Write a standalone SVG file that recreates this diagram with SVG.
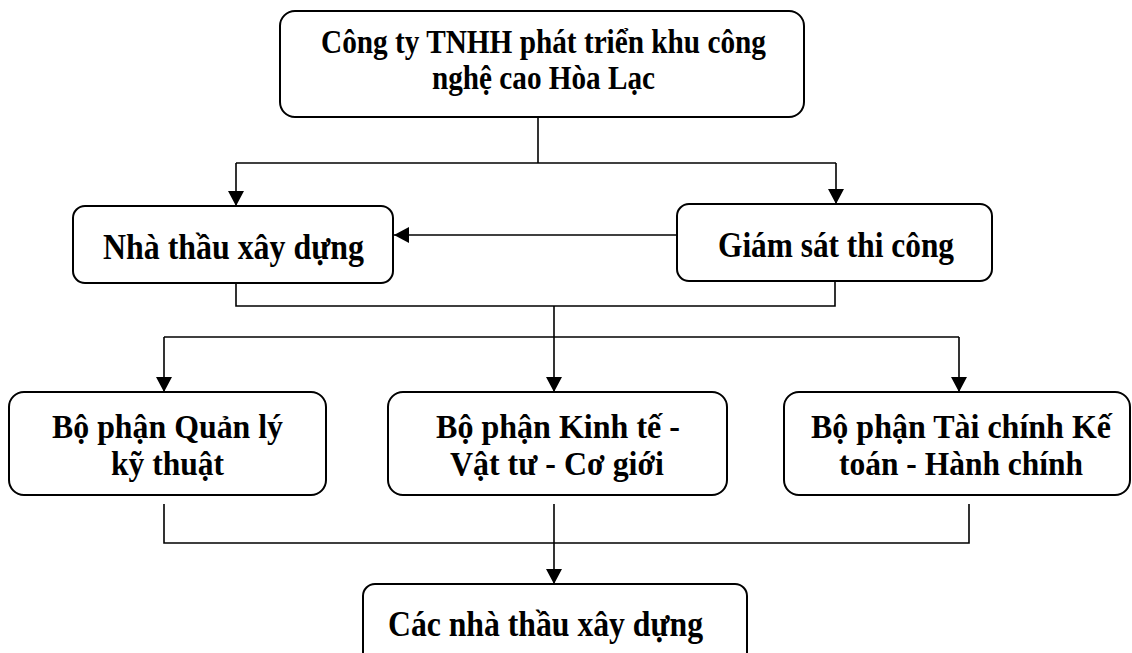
<svg xmlns="http://www.w3.org/2000/svg" width="1132" height="653" viewBox="0 0 1132 653">
<style>
.box{fill:#fff;stroke:#000;stroke-width:2}
.t{font-family:"Liberation Serif","Times New Roman",serif;font-weight:bold;fill:#000}
.c{fill:none;stroke:#000;stroke-width:1.6}
</style>
<defs>
<marker id="ah" markerUnits="userSpaceOnUse" markerWidth="16" markerHeight="16" refX="15" refY="8" orient="auto" viewBox="0 0 16 16">
<path d="M0,0 L15,8 L0,16 z" fill="#000"/>
</marker>
</defs>
<rect width="1132" height="653" fill="#fff"/>
<g id="connectors">
<path class="c" d="M538 117 V163"/>
<path class="c" d="M236 163 H836"/>
<path class="c" d="M236 163 V206" marker-end="url(#ah)"/>
<path class="c" d="M836 163 V204" marker-end="url(#ah)"/>
<path class="c" d="M677 235 H394" marker-end="url(#ah)"/>
<path class="c" d="M236 283 V306 H835 V281"/>
<path class="c" d="M554 306 V392" marker-end="url(#ah)"/>
<path class="c" d="M164 337 H959"/>
<path class="c" d="M164 337 V392" marker-end="url(#ah)"/>
<path class="c" d="M959 337 V392" marker-end="url(#ah)"/>
<path class="c" d="M164 504 V543 H969 V504"/>
<path class="c" d="M554 504 V584" marker-end="url(#ah)"/>
</g>
<g id="top">
<rect class="box" x="280" y="11" width="524" height="106" rx="15"/>
<text class="t" font-size="33" x="321" y="53" textLength="445" lengthAdjust="spacingAndGlyphs">Công ty TNHH phát triển khu công</text>
<text class="t" font-size="33" x="432" y="89" textLength="223" lengthAdjust="spacingAndGlyphs">nghệ cao Hòa Lạc</text>
</g>
<g id="nhathau">
<rect class="box" x="73" y="206" width="320" height="77" rx="12"/>
<text class="t" font-size="35" x="103" y="259" textLength="261" lengthAdjust="spacingAndGlyphs">Nhà thầu xây dựng</text>
</g>
<g id="giamsat">
<rect class="box" x="677" y="204" width="315" height="77" rx="12"/>
<text class="t" font-size="35" x="718" y="257" textLength="236" lengthAdjust="spacingAndGlyphs">Giám sát thi công</text>
</g>
<g id="qlkt">
<rect class="box" x="9" y="392" width="317" height="103" rx="15"/>
<text class="t" font-size="34.5" x="52" y="438" textLength="231" lengthAdjust="spacingAndGlyphs">Bộ phận Quản lý</text>
<text class="t" font-size="34.5" x="111" y="475" textLength="113" lengthAdjust="spacingAndGlyphs">kỹ thuật</text>
</g>
<g id="ktvt">
<rect class="box" x="388" y="392" width="339" height="103" rx="15"/>
<text class="t" font-size="34.5" x="436" y="438" textLength="244" lengthAdjust="spacingAndGlyphs">Bộ phận Kinh tế -</text>
<text class="t" font-size="34.5" x="450" y="475" textLength="214" lengthAdjust="spacingAndGlyphs">Vật tư - Cơ giới</text>
</g>
<g id="tckt">
<rect class="box" x="784" y="392" width="346" height="103" rx="15"/>
<text class="t" font-size="34.5" x="811" y="438" textLength="300" lengthAdjust="spacingAndGlyphs">Bộ phận Tài chính Kế</text>
<text class="t" font-size="34.5" x="839" y="475" textLength="244" lengthAdjust="spacingAndGlyphs">toán - Hành chính</text>
</g>
<g id="cacnhathau">
<rect class="box" x="363" y="584" width="384" height="90" rx="12"/>
<text class="t" font-size="36" x="388" y="636" textLength="315" lengthAdjust="spacingAndGlyphs">Các nhà thầu xây dựng</text>
</g>
</svg>
